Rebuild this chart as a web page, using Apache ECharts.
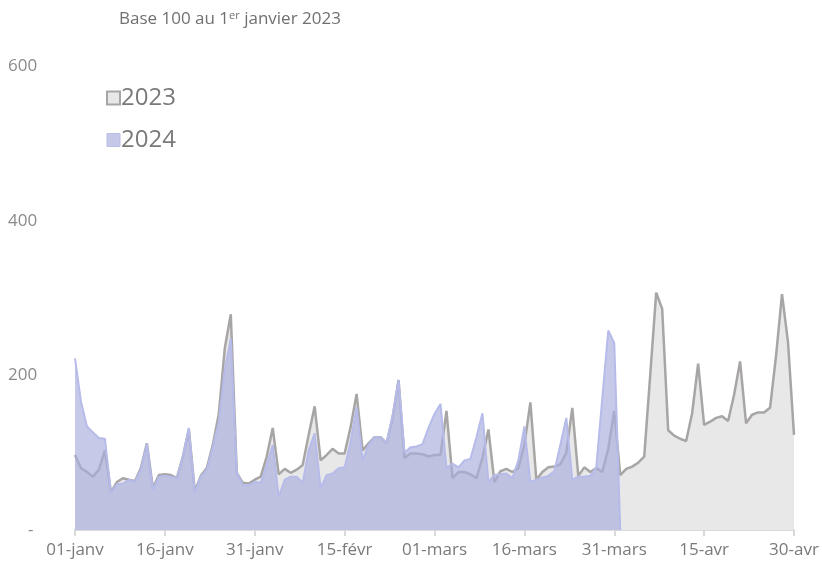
<!DOCTYPE html>
<html>
<head>
<meta charset="utf-8">
<script src="https://cdn.jsdelivr.net/npm/echarts@6/dist/echarts.min.js"></script>
<style>
	html, body { margin: 0; padding: 0; background: #ffffff; }
	#chart { width: 822px; height: 580px; }
</style>
</head>
<body>
<div id="chart"></div>
<script>
/*-----données S------*/
var moisList = ['janv', 'févr', 'mars', 'avr'];
var joursMois = [31, 29, 31, 30];
var yTicks = [0, 200, 400, 600];

// base 100 au 1er janvier 2023, une valeur par jour
var serie2023 = [
	97, 80, 75, 69, 78, 103, 49, 62, 67, 65,
	63, 80, 112, 54, 71, 72, 71, 67, 95, 130,
	50, 70, 80, 110, 150, 235, 279, 74, 61, 60,
	65, 69, 95, 132, 72, 79, 74, 78, 84, 123,
	160, 90, 97, 105, 99, 99, 133, 176, 103, 112,
	120, 120, 112, 145, 194, 93, 99, 99, 98, 95,
	97, 97, 154, 67, 75, 75, 72, 67, 93, 130,
	62, 76, 79, 75, 80, 110, 165, 65, 75, 81,
	82, 85, 100, 158, 70, 81, 75, 80, 75, 105,
	154, 71, 79, 82, 87, 95, 200, 307, 286, 129,
	122, 118, 115, 151, 215, 136, 140, 145, 147, 141,
	175, 218, 138, 149, 152, 152, 158, 225, 305, 243,
	123
];
var serie2024 = [
	222, 166, 134, 126, 119, 118, 48, 59, 60, 65,
	62, 78, 111, 52, 69, 70, 69, 67, 95, 132,
	48, 69, 78, 107, 140, 207, 248, 74, 58, 58,
	62, 61, 84, 110, 43, 65, 69, 69, 61, 103,
	125, 54, 71, 73, 80, 81, 114, 159, 90, 110,
	120, 120, 112, 148, 194, 100, 107, 108, 111, 132,
	150, 163, 80, 86, 81, 90, 92, 120, 151, 62,
	71, 72, 73, 67, 90, 134, 62, 65, 68, 70,
	76, 110, 145, 65, 69, 69, 70, 81, 170, 258,
	242, 0
];
/*-----données E------*/

var dateList = [];
for(var m = 0; m < moisList.length; m++){
	for(var d = 1; d <= joursMois[m]; d++){
		dateList.push((d < 10 ? '0' + d : '' + d) + '-' + moisList[m]);
	}
}

var fontName = 'Open Sans';
var option = {
	animation: false,
	title: {
		text: '{a|Base 100 au 1}{s|er}{a| janvier 2023}',
		left: 114,
		top: 5,
		textStyle: {
			rich: {
				a: { fontFamily: fontName, fontSize: 17, fontWeight: 'normal', color: '#707070' },
				s: { fontFamily: fontName, fontSize: 11, fontWeight: 'normal', color: '#707070', padding: [0, 0, 8, 0] }
			}
		}
	},
	legend: {
		orient: 'vertical',
		left: 101,
		top: 81,
		itemGap: 18,
		itemWidth: 13,
		itemHeight: 13,
		icon: 'rect',
		textStyle: { fontFamily: fontName, fontSize: 24, color: '#7a7a7a', padding: [0, 0, 0, -4] },
		data: [
			{ name: '2023', itemStyle: { color: '#e8e8e8', borderColor: '#a8a5a5', borderWidth: 2 } },
			{ name: '2024', itemStyle: { color: '#c5c8e6', borderColor: '#b8bde8', borderWidth: 1 } }
		]
	},
	grid: {
		left: 75,
		right: 28,
		top: 66,
		bottom: 50
	},
	xAxis: {
		type: 'category',
		data: dateList,
		boundaryGap: false,
		axisLine: { lineStyle: { color: '#d9d9d9', width: 2 } },
		axisTick: { interval: 14, length: 6, lineStyle: { color: '#d9d9d9', width: 2 } },
		axisLabel: { interval: 14, margin: 12, fontFamily: fontName, fontSize: 17, color: '#7a7a7a' },
		splitLine: { show: false }
	},
	yAxis: {
		type: 'value',
		min: yTicks[0],
		max: yTicks[yTicks.length - 1],
		interval: 200,
		axisLine: { show: false },
		axisTick: { show: false },
		splitLine: { show: false },
		axisLabel: {
			align: 'left',
			margin: 67,
			fontFamily: fontName,
			fontSize: 17,
			color: '#8a8a8a',
			formatter: function(v){
				return v === 0 ? '{z|-}' : '' + v;
			},
			rich: {
				z: { fontFamily: fontName, fontSize: 17, color: '#8a8a8a', padding: [0, 0, 0, 20] }
			}
		}
	},
	series: [
		{
			name: '2023',
			type: 'line',
			data: serie2023,
			symbol: 'none',
			z: 2,
			lineStyle: { color: '#a8a5a5', width: 2.5 },
			itemStyle: { color: '#a8a5a5' },
			areaStyle: { color: '#e8e8e8', opacity: 1 }
		},
		{
			name: '2024',
			type: 'line',
			data: serie2024,
			symbol: 'none',
			z: 3,
			lineStyle: { color: '#b6bbea', width: 2 },
			itemStyle: { color: '#b6bbea' },
			areaStyle: { color: 'rgba(168,174,220,0.66)', opacity: 1 }
		}
	]
};
echarts.init(document.getElementById('chart')).setOption(option, true);
</script>
</body>
</html>
